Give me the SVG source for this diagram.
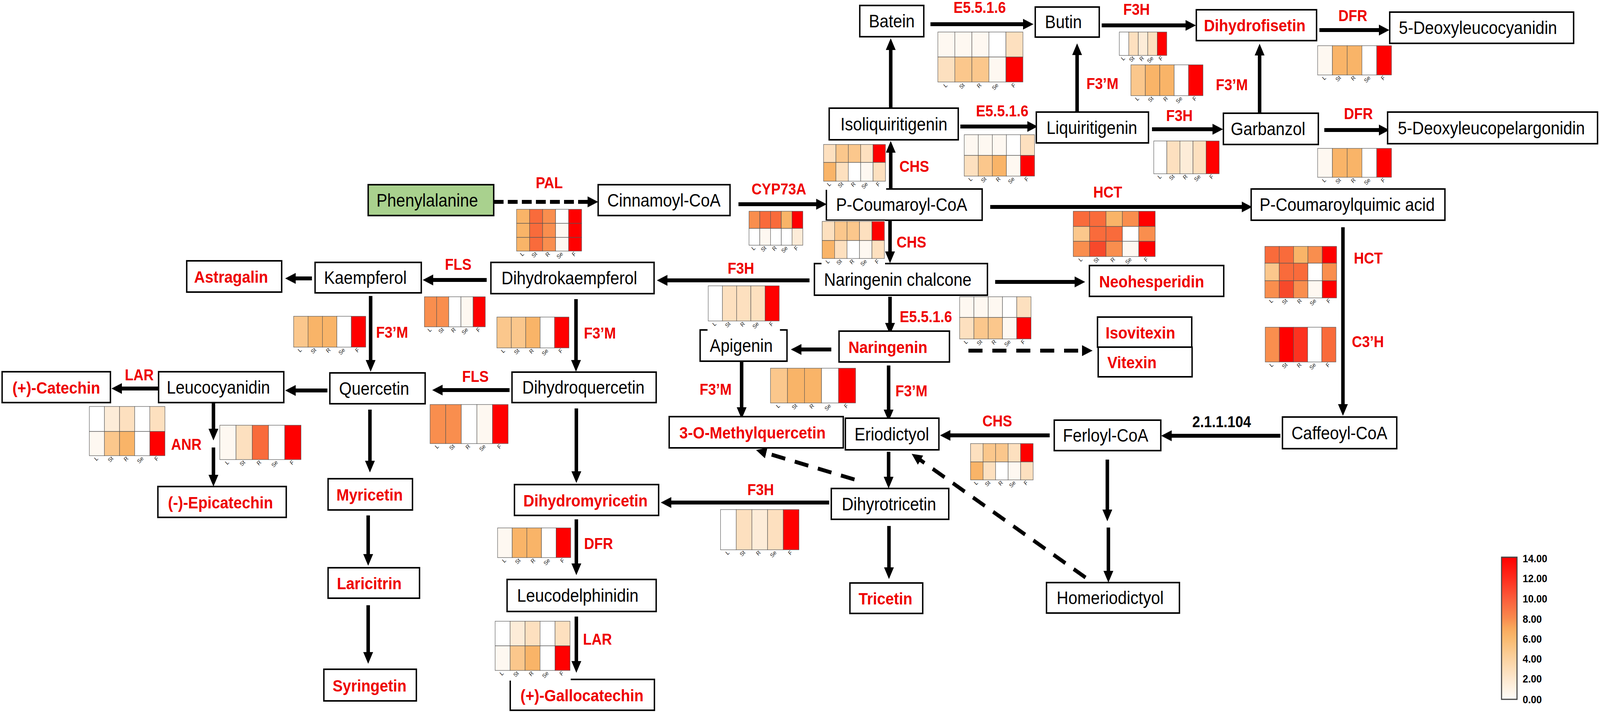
<svg xmlns="http://www.w3.org/2000/svg" width="4550" height="1826" viewBox="0 0 4550 1826" preserveAspectRatio="none" style="width:100vw;height:1826px;display:block">
<defs>
<style>
.box{fill:#fff;stroke:#000;stroke-width:4}
.nb{font:46px "Liberation Sans",Arial,sans-serif;fill:#000;text-anchor:middle}
.nr{font:bold 43px "Liberation Sans",Arial,sans-serif;fill:#ee0000;text-anchor:middle}
.en{font:bold 40px "Liberation Sans",Arial,sans-serif;fill:#ee0000;text-anchor:middle}
.ek{font:bold 40px "Liberation Sans",Arial,sans-serif;fill:#000;text-anchor:middle}
.tk{font:15px "Liberation Sans",Arial,sans-serif;fill:#222;text-anchor:end}
.lgt{font:bold 28px "Liberation Sans",Arial,sans-serif;fill:#000}
.ln{fill:none;stroke:#000;stroke-width:10;marker-end:url(#ah)}
.d1{stroke-dasharray:28 12}
.d2{stroke-dasharray:40 28}
.bg{fill:#fff}
.c{stroke:#555;stroke-width:1.2}
.w{fill:#ffffff}.v0{fill:#fef8f1}.v1{fill:#fdecd8}.v2{fill:#fde0bf}.v3{fill:#fbc78c}.v4{fill:#f9b468}.v5{fill:#f98e4e}.v6{fill:#f96b3b}.v7{fill:#f7492b}.v8{fill:#fc3320}.r{fill:#ff0000}
</style>
<marker id="ah" markerUnits="userSpaceOnUse" markerWidth="30" markerHeight="28" viewBox="0 0 30 28" refX="1" refY="14" orient="auto"><path d="M0,0L30,14L0,28z" fill="#000"/></marker>
<linearGradient id="lg" x1="0" y1="0" x2="0" y2="1">
<stop offset="0" stop-color="#ff0000"/><stop offset="0.143" stop-color="#ff2a1c"/><stop offset="0.286" stop-color="#fb5b3a"/><stop offset="0.429" stop-color="#f98a4e"/><stop offset="0.5" stop-color="#f9a85c"/><stop offset="0.571" stop-color="#f9b96e"/><stop offset="0.714" stop-color="#fbd2a0"/><stop offset="0.857" stop-color="#fde8cf"/><stop offset="1" stop-color="#fffdf9"/>
</linearGradient>
</defs>
<rect x="0" y="0" width="4550" height="1826" fill="#fff"/>

<g id="connectors">
<path class="ln d1" d="M1404,517H1672"/>
<path class="ln" d="M2100,523H2322"/>
<path class="ln" d="M2533,482V390"/>
<path class="ln" d="M2533,277V127"/>
<path class="ln" d="M2646,62H2910"/>
<path class="ln" d="M3133,65H3372"/>
<path class="ln" d="M3752,77H3922"/>
<path class="ln" d="M2731,324H2922"/>
<path class="ln" d="M3063,287V140"/>
<path class="ln" d="M3276,331H3449"/>
<path class="ln" d="M3582,290V141"/>
<path class="ln" d="M3766,333H3922"/>
<path class="ln" d="M2816,530H3532"/>
<path class="ln" d="M3819,582V1036"/>
<path class="ln" d="M3641,1116H3331"/>
<path class="ln" d="M2531,564V645"/>
<path class="ln" d="M2302,718H1897"/>
<path class="ln" d="M1384,717H1231"/>
<path class="ln" d="M887,713H840"/>
<path class="ln" d="M1054,758V923"/>
<path class="ln" d="M1638,766V923"/>
<path class="ln" d="M1449,999H1258"/>
<path class="ln" d="M931,1000H840"/>
<path class="ln" d="M459,995H346"/>
<path class="ln" d="M607,1027V1099"/>
<path class="ln" d="M607,1146V1217"/>
<path class="ln" d="M1052,1049V1181"/>
<path class="ln" d="M1047,1320V1420"/>
<path class="ln" d="M1047,1550V1671"/>
<path class="ln" d="M1639,1046V1208"/>
<path class="ln" d="M2358,1287H1908"/>
<path class="ln" d="M1639,1330V1444"/>
<path class="ln" d="M1639,1579V1694"/>
<path class="ln" d="M2830,722H3057"/>
<path class="ln" d="M2531,760V828"/>
<path class="ln" d="M2364,895H2278"/>
<path class="ln d2" d="M2754,898H3078"/>
<path class="ln" d="M2109,925V1044"/>
<path class="ln" d="M2527,936V1050"/>
<path class="ln" d="M2985,1115H2702"/>
<path class="ln" d="M2527,1157V1222"/>
<path class="ln" d="M2528,1347V1454"/>
<path class="ln" d="M3149,1177V1306"/>
<path class="ln" d="M3152,1351V1463"/>
<path class="ln d2" d="M2430,1228L2178,1160"/>
<path class="ln d2" d="M3087,1479L2617,1178"/>
</g>

<g id="enzyme-labels">
<text class="en" x="1562" y="482">PAL</text>
<text class="en" x="2215" y="498">CYP73A</text>
<text class="en" x="2600" y="440">CHS</text>
<text class="en" x="2786" y="33">E5.5.1.6</text>
<text class="en" x="3232" y="38">F3H</text>
<text class="en" x="3847" y="54">DFR</text>
<text class="en" x="2850" y="298">E5.5.1.6</text>
<text class="en" x="3135" y="228">F3’M</text>
<text class="en" x="3354" y="310">F3H</text>
<text class="en" x="3503" y="231">F3’M</text>
<text class="en" x="3863" y="305">DFR</text>
<text class="en" x="3150" y="506">HCT</text>
<text class="en" x="3891" y="675">HCT</text>
<text class="en" x="3890" y="889">C3’H</text>
<text class="ek" x="3474" y="1094">2.1.1.104</text>
<text class="en" x="2592" y="634">CHS</text>
<text class="en" x="2107" y="701">F3H</text>
<text class="en" x="1303" y="691">FLS</text>
<text class="en" x="1115" y="865">F3’M</text>
<text class="en" x="1706" y="867">F3’M</text>
<text class="en" x="1352" y="978">FLS</text>
<text class="en" x="396" y="974">LAR</text>
<text class="en" x="530" y="1152">ANR</text>
<text class="en" x="2163" y="1268">F3H</text>
<text class="en" x="1702" y="1406">DFR</text>
<text class="en" x="1699" y="1651">LAR</text>
<text class="en" x="2633" y="825">E5.5.1.6</text>
<text class="en" x="2035" y="1011">F3’M</text>
<text class="en" x="2592" y="1015">F3’M</text>
<text class="en" x="2836" y="1092">CHS</text>
</g>

<g id="n-batein"><rect class="box" x="2445" y="14" width="182" height="80"/><text class="nb" x="2536" y="70">Batein</text></g>
<g id="n-butin"><rect class="box" x="2944" y="18" width="182" height="77"/><text class="nb" x="3024" y="72">Butin</text></g>
<g id="n-dihydrofisetin"><rect class="box" x="3402" y="25" width="342" height="79"/><text class="nr" x="3568" y="80">Dihydrofisetin</text></g>
<g id="n-5dlc"><rect class="box" x="3952" y="31" width="523" height="80"/><text class="nb" x="4203" y="87">5-Deoxyleucocyanidin</text></g>
<g id="n-isoliquiritigenin"><rect class="box" x="2358" y="277" width="367" height="81"/><text class="nb" x="2542" y="334">Isoliquiritigenin</text></g>
<g id="n-liquiritigenin"><rect class="box" x="2947" y="287" width="319" height="79"/><text class="nb" x="3105" y="343">Liquiritigenin</text></g>
<g id="n-garbanzol"><rect class="box" x="3479" y="290" width="270" height="80"/><text class="nb" x="3606" y="346">Garbanzol</text></g>
<g id="n-5dlp"><rect class="box" x="3946" y="287" width="597" height="81"/><text class="nb" x="4241" y="344">5-Deoxyleucopelargonidin</text></g>
<g id="n-pcoumaroylcoa"><rect class="box" x="2350" y="484" width="443" height="80"/><text class="nb" x="2564" y="540">P-Coumaroyl-CoA</text></g>
<g id="n-pcq"><rect class="box" x="3558" y="484" width="551" height="80"/><text class="nb" x="3831" y="540">P-Coumaroylquimic acid</text></g>
<g id="n-cinnamoylcoa"><rect class="box" x="1701" y="473" width="375" height="79"/><text class="nb" x="1888" y="529">Cinnamoyl-CoA</text></g>
<g id="n-phenylalanine"><rect class="box" x="1047" y="473" width="357" height="79" style="fill:#a9d18e"/><text class="nb" x="1215" y="529">Phenylalanine</text></g>
<g id="n-astragalin"><rect class="box" x="531" y="668" width="270" height="80"/><text class="nr" x="657" y="724">Astragalin</text></g>
<g id="n-kaempferol"><rect class="box" x="896" y="672" width="302" height="78"/><text class="nb" x="1039" y="727">Kaempferol</text></g>
<g id="n-dihydrokaempferol"><rect class="box" x="1396" y="672" width="464" height="80"/><text class="nb" x="1619" y="728">Dihydrokaempferol</text></g>
<g id="n-naringeninchalcone"><rect class="box" x="2316" y="675" width="492" height="81"/><text class="nb" x="2553" y="732">Naringenin chalcone</text></g>
<g id="n-neohesperidin"><rect class="box" x="3098" y="680" width="382" height="79"/><text class="nr" x="3275" y="736">Neohesperidin</text></g>
<g id="n-apigenin"><rect class="box" x="1991" y="845" width="247" height="80"/><text class="nb" x="2108" y="901">Apigenin</text></g>
<g id="n-naringenin"><rect class="box" x="2386" y="848" width="314" height="79"/><text class="nr" x="2525" y="904">Naringenin</text></g>
<g id="n-isovitexin"><rect class="box" x="3121" y="812" width="268" height="77"/><text class="nr" x="3243" y="867">Isovitexin</text></g>
<g id="n-vitexin"><rect class="box" x="3123" y="889" width="267" height="76"/><text class="nr" x="3219" y="943">Vitexin</text></g>
<g id="n-leucocyanidin"><rect class="box" x="451" y="952" width="356" height="79"/><text class="nb" x="621" y="1008">Leucocyanidin</text></g>
<g id="n-catechin"><rect class="box" x="6" y="952" width="308" height="79"/><text class="nr" x="160" y="1008">(+)-Catechin</text></g>
<g id="n-quercetin"><rect class="box" x="938" y="955" width="271" height="79"/><text class="nb" x="1064" y="1011">Quercetin</text></g>
<g id="n-dihydroquercetin"><rect class="box" x="1456" y="953" width="410" height="78"/><text class="nb" x="1659" y="1008">Dihydroquercetin</text></g>
<g id="n-3omq"><rect class="box" x="1903" y="1067" width="495" height="80"/><text class="nr" x="2140" y="1123">3-O-Methylquercetin</text></g>
<g id="n-eriodictyol"><rect class="box" x="2404" y="1071" width="266" height="81"/><text class="nb" x="2536" y="1128">Eriodictyol</text></g>
<g id="n-ferloylcoa"><rect class="box" x="2998" y="1076" width="303" height="78"/><text class="nb" x="3144" y="1131">Ferloyl-CoA</text></g>
<g id="n-caffeoylcoa"><rect class="box" x="3647" y="1068" width="325" height="81"/><text class="nb" x="3809" y="1125">Caffeoyl-CoA</text></g>
<g id="n-epicatechin"><rect class="box" x="449" y="1246" width="365" height="79"/><text class="nr" x="627" y="1302">(-)-Epicatechin</text></g>
<g id="n-myricetin"><rect class="box" x="933" y="1226" width="240" height="80"/><text class="nr" x="1051" y="1282">Myricetin</text></g>
<g id="n-laricitrin"><rect class="box" x="933" y="1454" width="260" height="78"/><text class="nr" x="1050" y="1509">Laricitrin</text></g>
<g id="n-syringetin"><rect class="box" x="921" y="1714" width="263" height="81"/><text class="nr" x="1051" y="1771">Syringetin</text></g>
<g id="n-dihydromyricetin"><rect class="box" x="1463" y="1241" width="410" height="79"/><text class="nr" x="1665" y="1297">Dihydromyricetin</text></g>
<g id="n-leucodelphinidin"><rect class="box" x="1442" y="1484" width="424" height="82"/><text class="nb" x="1643" y="1541">Leucodelphinidin</text></g>
<g id="n-gallocatechin"><rect class="box" x="1451" y="1740" width="410" height="79"/><text class="nr" x="1655" y="1796">(+)-Gallocatechin</text></g>
<g id="n-dihyrotricetin"><rect class="box" x="2364" y="1251" width="334" height="79"/><text class="nb" x="2528" y="1307">Dihyrotricetin</text></g>
<g id="n-tricetin"><rect class="box" x="2417" y="1493" width="207" height="78"/><text class="nr" x="2518" y="1548">Tricetin</text></g>
<g id="n-homeriodictyol"><rect class="box" x="2976" y="1492" width="378" height="78"/><text class="nb" x="3157" y="1547">Homeriodictyol</text></g>

<g id="heatmaps">
<g id="hm-pal"><rect class="bg" x="1467" y="534" width="189" height="131"/>
<rect class="c v4" x="1469" y="536" width="37" height="36"/><rect class="c v6" x="1506" y="536" width="37" height="36"/><rect class="c v5" x="1543" y="536" width="37" height="36"/><rect class="c w" x="1580" y="536" width="37" height="36"/><rect class="c r" x="1617" y="536" width="37" height="36"/>
<rect class="c v4" x="1469" y="572" width="37" height="36"/><rect class="c v6" x="1506" y="572" width="37" height="36"/><rect class="c v5" x="1543" y="572" width="37" height="36"/><rect class="c v0" x="1580" y="572" width="37" height="36"/><rect class="c r" x="1617" y="572" width="37" height="36"/>
<rect class="c v4" x="1469" y="608" width="37" height="35"/><rect class="c v6" x="1506" y="608" width="37" height="35"/><rect class="c v5" x="1543" y="608" width="37" height="35"/><rect class="c v0" x="1580" y="608" width="37" height="35"/><rect class="c r" x="1617" y="608" width="37" height="35"/>
<text class="tk" transform="translate(1491,651) rotate(-45)">L</text><text class="tk" transform="translate(1528,651) rotate(-45)">St</text><text class="tk" transform="translate(1565,651) rotate(-45)">R</text><text class="tk" transform="translate(1602,651) rotate(-45)">Se</text><text class="tk" transform="translate(1639,651) rotate(-45)">F</text>
</g>
<g id="hm-cyp73a"><rect class="bg" x="2128" y="539" width="157" height="111"/>
<rect class="c v5" x="2130" y="541" width="30.6" height="44"/><rect class="c v6" x="2160.6" y="541" width="30.6" height="44"/><rect class="c v6" x="2191.2" y="541" width="30.6" height="44"/><rect class="c v4" x="2221.8" y="541" width="30.6" height="44"/><rect class="c r" x="2252.4" y="541" width="30.6" height="44"/>
<rect class="c w" x="2130" y="585" width="30.6" height="43"/><rect class="c v0" x="2160.6" y="585" width="30.6" height="43"/><rect class="c w" x="2191.2" y="585" width="30.6" height="43"/><rect class="c w" x="2221.8" y="585" width="30.6" height="43"/><rect class="c v1" x="2252.4" y="585" width="30.6" height="43"/>
<text class="tk" transform="translate(2149,636) rotate(-45)">L</text><text class="tk" transform="translate(2180,636) rotate(-45)">St</text><text class="tk" transform="translate(2210,636) rotate(-45)">R</text><text class="tk" transform="translate(2241,636) rotate(-45)">Se</text><text class="tk" transform="translate(2271,636) rotate(-45)">F</text>
</g>
<g id="hm-chs1"><rect class="bg" x="2340" y="368" width="180" height="118"/>
<rect class="c v2" x="2342" y="370" width="35.2" height="46"/><rect class="c v3" x="2377.2" y="370" width="35.2" height="46"/><rect class="c v3" x="2412.4" y="370" width="35.2" height="46"/><rect class="c v2" x="2447.6" y="370" width="35.2" height="46"/><rect class="c r" x="2482.8" y="370" width="35.2" height="46"/>
<rect class="c v4" x="2342" y="416" width="35.2" height="48"/><rect class="c v2" x="2377.2" y="416" width="35.2" height="48"/><rect class="c w" x="2412.4" y="416" width="35.2" height="48"/><rect class="c v0" x="2447.6" y="416" width="35.2" height="48"/><rect class="c v2" x="2482.8" y="416" width="35.2" height="48"/>
<text class="tk" transform="translate(2364,472) rotate(-45)">L</text><text class="tk" transform="translate(2399,472) rotate(-45)">St</text><text class="tk" transform="translate(2434,472) rotate(-45)">R</text><text class="tk" transform="translate(2469,472) rotate(-45)">Se</text><text class="tk" transform="translate(2504,472) rotate(-45)">F</text>
</g>
<g id="hm-e1"><rect class="bg" x="2665" y="80" width="246" height="152"/>
<rect class="c v0" x="2667" y="82" width="48.4" height="64"/><rect class="c v0" x="2715.4" y="82" width="48.4" height="64"/><rect class="c v0" x="2763.8" y="82" width="48.4" height="64"/><rect class="c w" x="2812.2" y="82" width="48.4" height="64"/><rect class="c v2" x="2860.6" y="82" width="48.4" height="64"/>
<rect class="c v2" x="2667" y="146" width="48.4" height="64"/><rect class="c v3" x="2715.4" y="146" width="48.4" height="64"/><rect class="c v3" x="2763.8" y="146" width="48.4" height="64"/><rect class="c v0" x="2812.2" y="146" width="48.4" height="64"/><rect class="c r" x="2860.6" y="146" width="48.4" height="64"/>
<text class="tk" transform="translate(2695,219) rotate(-45)">L</text><text class="tk" transform="translate(2744,219) rotate(-45)">St</text><text class="tk" transform="translate(2792,219) rotate(-45)">R</text><text class="tk" transform="translate(2840,219) rotate(-45)">Se</text><text class="tk" transform="translate(2889,219) rotate(-45)">F</text>
</g>
<g id="hm-f3h1"><rect class="bg" x="3181" y="80" width="139" height="82"/>
<rect class="c w" x="3183" y="82" width="27" height="60"/><rect class="c v2" x="3210" y="82" width="27" height="60"/><rect class="c v1" x="3237" y="82" width="27" height="60"/><rect class="c v2" x="3264" y="82" width="27" height="60"/><rect class="c r" x="3291" y="82" width="27" height="60"/>
<text class="tk" transform="translate(3200,150) rotate(-45)">L</text><text class="tk" transform="translate(3227,150) rotate(-45)">St</text><text class="tk" transform="translate(3254,150) rotate(-45)">R</text><text class="tk" transform="translate(3281,150) rotate(-45)">Se</text><text class="tk" transform="translate(3308,150) rotate(-45)">F</text>
</g>
<g id="hm-f3m1"><rect class="bg" x="3214" y="164" width="209" height="103"/>
<rect class="c v3" x="3216" y="166" width="41" height="79"/><rect class="c v4" x="3257" y="166" width="41" height="79"/><rect class="c v4" x="3298" y="166" width="41" height="79"/><rect class="c w" x="3339" y="166" width="41" height="79"/><rect class="c r" x="3380" y="166" width="41" height="79"/>
<text class="tk" transform="translate(3240,253) rotate(-45)">L</text><text class="tk" transform="translate(3281,253) rotate(-45)">St</text><text class="tk" transform="translate(3322,253) rotate(-45)">R</text><text class="tk" transform="translate(3363,253) rotate(-45)">Se</text><text class="tk" transform="translate(3404,253) rotate(-45)">F</text>
</g>
<g id="hm-dfr1"><rect class="bg" x="3745" y="115" width="214" height="99"/>
<rect class="c v0" x="3747" y="117" width="42" height="75"/><rect class="c v4" x="3789" y="117" width="42" height="75"/><rect class="c v4" x="3831" y="117" width="42" height="75"/><rect class="c w" x="3873" y="117" width="42" height="75"/><rect class="c r" x="3915" y="117" width="42" height="75"/>
<text class="tk" transform="translate(3772,200) rotate(-45)">L</text><text class="tk" transform="translate(3814,200) rotate(-45)">St</text><text class="tk" transform="translate(3856,200) rotate(-45)">R</text><text class="tk" transform="translate(3898,200) rotate(-45)">Se</text><text class="tk" transform="translate(3940,200) rotate(-45)">F</text>
</g>
<g id="hm-e2"><rect class="bg" x="2740" y="343" width="204" height="130"/>
<rect class="c v0" x="2742" y="345" width="40" height="53"/><rect class="c v0" x="2782" y="345" width="40" height="53"/><rect class="c v0" x="2822" y="345" width="40" height="53"/><rect class="c w" x="2862" y="345" width="40" height="53"/><rect class="c v2" x="2902" y="345" width="40" height="53"/>
<rect class="c v2" x="2742" y="398" width="40" height="53"/><rect class="c v3" x="2782" y="398" width="40" height="53"/><rect class="c v4" x="2822" y="398" width="40" height="53"/><rect class="c v0" x="2862" y="398" width="40" height="53"/><rect class="c r" x="2902" y="398" width="40" height="53"/>
<text class="tk" transform="translate(2766,459) rotate(-45)">L</text><text class="tk" transform="translate(2806,459) rotate(-45)">St</text><text class="tk" transform="translate(2846,459) rotate(-45)">R</text><text class="tk" transform="translate(2886,459) rotate(-45)">Se</text><text class="tk" transform="translate(2926,459) rotate(-45)">F</text>
</g>
<g id="hm-f3h2"><rect class="bg" x="3279" y="359" width="190" height="108"/>
<rect class="c w" x="3281" y="361" width="37.2" height="84"/><rect class="c v2" x="3318.2" y="361" width="37.2" height="84"/><rect class="c v1" x="3355.4" y="361" width="37.2" height="84"/><rect class="c v2" x="3392.6" y="361" width="37.2" height="84"/><rect class="c r" x="3429.8" y="361" width="37.2" height="84"/>
<text class="tk" transform="translate(3304,453) rotate(-45)">L</text><text class="tk" transform="translate(3341,453) rotate(-45)">St</text><text class="tk" transform="translate(3378,453) rotate(-45)">R</text><text class="tk" transform="translate(3415,453) rotate(-45)">Se</text><text class="tk" transform="translate(3452,453) rotate(-45)">F</text>
</g>
<g id="hm-dfr2"><rect class="bg" x="3745" y="378" width="214" height="98"/>
<rect class="c v0" x="3747" y="380" width="42" height="74"/><rect class="c v4" x="3789" y="380" width="42" height="74"/><rect class="c v4" x="3831" y="380" width="42" height="74"/><rect class="c w" x="3873" y="380" width="42" height="74"/><rect class="c r" x="3915" y="380" width="42" height="74"/>
<text class="tk" transform="translate(3772,462) rotate(-45)">L</text><text class="tk" transform="translate(3814,462) rotate(-45)">St</text><text class="tk" transform="translate(3856,462) rotate(-45)">R</text><text class="tk" transform="translate(3898,462) rotate(-45)">Se</text><text class="tk" transform="translate(3940,462) rotate(-45)">F</text>
</g>
<g id="hm-hct1"><rect class="bg" x="3050" y="539" width="237" height="138"/>
<rect class="c v6" x="3052" y="541" width="46.6" height="39"/><rect class="c v6" x="3098.6" y="541" width="46.6" height="39"/><rect class="c v4" x="3145.2" y="541" width="46.6" height="39"/><rect class="c v5" x="3191.8" y="541" width="46.6" height="39"/><rect class="c r" x="3238.4" y="541" width="46.6" height="39"/>
<rect class="c v3" x="3052" y="580" width="46.6" height="38"/><rect class="c v6" x="3098.6" y="580" width="46.6" height="38"/><rect class="c v6" x="3145.2" y="580" width="46.6" height="38"/><rect class="c w" x="3191.8" y="580" width="46.6" height="38"/><rect class="c v5" x="3238.4" y="580" width="46.6" height="38"/>
<rect class="c v5" x="3052" y="618" width="46.6" height="39"/><rect class="c v7" x="3098.6" y="618" width="46.6" height="39"/><rect class="c v5" x="3145.2" y="618" width="46.6" height="39"/><rect class="c v0" x="3191.8" y="618" width="46.6" height="39"/><rect class="c r" x="3238.4" y="618" width="46.6" height="39"/>
<text class="tk" transform="translate(3079,665) rotate(-45)">L</text><text class="tk" transform="translate(3126,665) rotate(-45)">St</text><text class="tk" transform="translate(3172,665) rotate(-45)">R</text><text class="tk" transform="translate(3219,665) rotate(-45)">Se</text><text class="tk" transform="translate(3266,665) rotate(-45)">F</text>
</g>
<g id="hm-chs2"><rect class="bg" x="2336" y="565" width="181" height="119"/>
<rect class="c v2" x="2338" y="567" width="35.4" height="49"/><rect class="c v3" x="2373.4" y="567" width="35.4" height="49"/><rect class="c v3" x="2408.8" y="567" width="35.4" height="49"/><rect class="c v2" x="2444.2" y="567" width="35.4" height="49"/><rect class="c r" x="2479.6" y="567" width="35.4" height="49"/>
<rect class="c v4" x="2338" y="616" width="35.4" height="46"/><rect class="c v2" x="2373.4" y="616" width="35.4" height="46"/><rect class="c w" x="2408.8" y="616" width="35.4" height="46"/><rect class="c v0" x="2444.2" y="616" width="35.4" height="46"/><rect class="c v2" x="2479.6" y="616" width="35.4" height="46"/>
<text class="tk" transform="translate(2360,670) rotate(-45)">L</text><text class="tk" transform="translate(2395,670) rotate(-45)">St</text><text class="tk" transform="translate(2430,670) rotate(-45)">R</text><text class="tk" transform="translate(2466,670) rotate(-45)">Se</text><text class="tk" transform="translate(2501,670) rotate(-45)">F</text>
</g>
<g id="hm-hct2"><rect class="bg" x="3595" y="629" width="208" height="156"/>
<rect class="c v6" x="3597" y="631" width="40.8" height="43"/><rect class="c v6" x="3637.8" y="631" width="40.8" height="43"/><rect class="c v4" x="3678.6" y="631" width="40.8" height="43"/><rect class="c v5" x="3719.4" y="631" width="40.8" height="43"/><rect class="c r" x="3760.2" y="631" width="40.8" height="43"/>
<rect class="c v3" x="3597" y="674" width="40.8" height="45"/><rect class="c v6" x="3637.8" y="674" width="40.8" height="45"/><rect class="c v6" x="3678.6" y="674" width="40.8" height="45"/><rect class="c w" x="3719.4" y="674" width="40.8" height="45"/><rect class="c v5" x="3760.2" y="674" width="40.8" height="45"/>
<rect class="c v5" x="3597" y="719" width="40.8" height="44"/><rect class="c v7" x="3637.8" y="719" width="40.8" height="44"/><rect class="c v5" x="3678.6" y="719" width="40.8" height="44"/><rect class="c v0" x="3719.4" y="719" width="40.8" height="44"/><rect class="c r" x="3760.2" y="719" width="40.8" height="44"/>
<text class="tk" transform="translate(3621,771) rotate(-45)">L</text><text class="tk" transform="translate(3662,771) rotate(-45)">St</text><text class="tk" transform="translate(3703,771) rotate(-45)">R</text><text class="tk" transform="translate(3744,771) rotate(-45)">Se</text><text class="tk" transform="translate(3785,771) rotate(-45)">F</text>
</g>
<g id="hm-c3h"><rect class="bg" x="3596" y="836" width="205" height="113"/>
<rect class="c v5" x="3598" y="838" width="40.2" height="89"/><rect class="c r" x="3638.2" y="838" width="40.2" height="89"/><rect class="c v8" x="3678.4" y="838" width="40.2" height="89"/><rect class="c w" x="3718.6" y="838" width="40.2" height="89"/><rect class="c v6" x="3758.8" y="838" width="40.2" height="89"/>
<text class="tk" transform="translate(3622,935) rotate(-45)">L</text><text class="tk" transform="translate(3662,935) rotate(-45)">St</text><text class="tk" transform="translate(3702,935) rotate(-45)">R</text><text class="tk" transform="translate(3743,935) rotate(-45)">Se</text><text class="tk" transform="translate(3783,935) rotate(-45)">F</text>
</g>
<g id="hm-fls1"><rect class="bg" x="1205" y="758" width="177" height="101"/>
<rect class="c v5" x="1207" y="760" width="34.6" height="77"/><rect class="c v5" x="1241.6" y="760" width="34.6" height="77"/><rect class="c w" x="1276.2" y="760" width="34.6" height="77"/><rect class="c v0" x="1310.8" y="760" width="34.6" height="77"/><rect class="c r" x="1345.4" y="760" width="34.6" height="77"/>
<text class="tk" transform="translate(1228,845) rotate(-45)">L</text><text class="tk" transform="translate(1263,845) rotate(-45)">St</text><text class="tk" transform="translate(1297,845) rotate(-45)">R</text><text class="tk" transform="translate(1332,845) rotate(-45)">Se</text><text class="tk" transform="translate(1367,845) rotate(-45)">F</text>
</g>
<g id="hm-f3m2"><rect class="bg" x="833" y="808" width="209" height="103"/>
<rect class="c v3" x="835" y="810" width="41" height="79"/><rect class="c v4" x="876" y="810" width="41" height="79"/><rect class="c v4" x="917" y="810" width="41" height="79"/><rect class="c w" x="958" y="810" width="41" height="79"/><rect class="c r" x="999" y="810" width="41" height="79"/>
<text class="tk" transform="translate(859,897) rotate(-45)">L</text><text class="tk" transform="translate(900,897) rotate(-45)">St</text><text class="tk" transform="translate(941,897) rotate(-45)">R</text><text class="tk" transform="translate(982,897) rotate(-45)">Se</text><text class="tk" transform="translate(1023,897) rotate(-45)">F</text>
</g>
<g id="hm-f3m3"><rect class="bg" x="1411" y="810" width="209" height="103"/>
<rect class="c v3" x="1413" y="812" width="41" height="79"/><rect class="c v3" x="1454" y="812" width="41" height="79"/><rect class="c v4" x="1495" y="812" width="41" height="79"/><rect class="c w" x="1536" y="812" width="41" height="79"/><rect class="c r" x="1577" y="812" width="41" height="79"/>
<text class="tk" transform="translate(1437,899) rotate(-45)">L</text><text class="tk" transform="translate(1478,899) rotate(-45)">St</text><text class="tk" transform="translate(1519,899) rotate(-45)">R</text><text class="tk" transform="translate(1560,899) rotate(-45)">Se</text><text class="tk" transform="translate(1601,899) rotate(-45)">F</text>
</g>
<g id="hm-f3h3"><rect class="bg" x="2012" y="730" width="206" height="120"/>
<rect class="c w" x="2014" y="732" width="40.4" height="90"/><rect class="c v2" x="2054.4" y="732" width="40.4" height="90"/><rect class="c v2" x="2094.8" y="732" width="40.4" height="90"/><rect class="c v2" x="2135.2" y="732" width="40.4" height="90"/><rect class="c r" x="2175.6" y="732" width="40.4" height="90"/>
<text class="tk" transform="translate(2038,830) rotate(-45)">L</text><text class="tk" transform="translate(2078,830) rotate(-45)">St</text><text class="tk" transform="translate(2119,830) rotate(-45)">R</text><text class="tk" transform="translate(2159,830) rotate(-45)">Se</text><text class="tk" transform="translate(2200,830) rotate(-45)">F</text>
</g>
<g id="hm-e3"><rect class="bg" x="2727" y="758" width="207" height="132"/>
<rect class="c v0" x="2729" y="760" width="40.6" height="53"/><rect class="c v0" x="2769.6" y="760" width="40.6" height="53"/><rect class="c v0" x="2810.2" y="760" width="40.6" height="53"/><rect class="c w" x="2850.8" y="760" width="40.6" height="53"/><rect class="c v2" x="2891.4" y="760" width="40.6" height="53"/>
<rect class="c v2" x="2729" y="813" width="40.6" height="55"/><rect class="c v3" x="2769.6" y="813" width="40.6" height="55"/><rect class="c v3" x="2810.2" y="813" width="40.6" height="55"/><rect class="c v0" x="2850.8" y="813" width="40.6" height="55"/><rect class="c r" x="2891.4" y="813" width="40.6" height="55"/>
<text class="tk" transform="translate(2753,876) rotate(-45)">L</text><text class="tk" transform="translate(2794,876) rotate(-45)">St</text><text class="tk" transform="translate(2834,876) rotate(-45)">R</text><text class="tk" transform="translate(2875,876) rotate(-45)">Se</text><text class="tk" transform="translate(2916,876) rotate(-45)">F</text>
</g>
<g id="hm-f3m4"><rect class="bg" x="2189" y="941" width="246" height="113"/>
<rect class="c v3" x="2191" y="943" width="48.4" height="89"/><rect class="c v4" x="2239.4" y="943" width="48.4" height="89"/><rect class="c v4" x="2287.8" y="943" width="48.4" height="89"/><rect class="c w" x="2336.2" y="943" width="48.4" height="89"/><rect class="c r" x="2384.6" y="943" width="48.4" height="89"/>
<text class="tk" transform="translate(2219,1040) rotate(-45)">L</text><text class="tk" transform="translate(2268,1040) rotate(-45)">St</text><text class="tk" transform="translate(2316,1040) rotate(-45)">R</text><text class="tk" transform="translate(2364,1040) rotate(-45)">Se</text><text class="tk" transform="translate(2413,1040) rotate(-45)">F</text>
</g>
<g id="hm-fls2"><rect class="bg" x="1221" y="1034" width="226" height="124"/>
<rect class="c v5" x="1223" y="1036" width="44.4" height="100"/><rect class="c v5" x="1267.4" y="1036" width="44.4" height="100"/><rect class="c w" x="1311.8" y="1036" width="44.4" height="100"/><rect class="c v0" x="1356.2" y="1036" width="44.4" height="100"/><rect class="c r" x="1400.6" y="1036" width="44.4" height="100"/>
<text class="tk" transform="translate(1249,1144) rotate(-45)">L</text><text class="tk" transform="translate(1294,1144) rotate(-45)">St</text><text class="tk" transform="translate(1338,1144) rotate(-45)">R</text><text class="tk" transform="translate(1382,1144) rotate(-45)">Se</text><text class="tk" transform="translate(1427,1144) rotate(-45)">F</text>
</g>
<g id="hm-lar1"><rect class="bg" x="252" y="1039" width="219" height="150"/>
<rect class="c w" x="254" y="1041" width="43" height="64"/><rect class="c v1" x="297" y="1041" width="43" height="64"/><rect class="c v2" x="340" y="1041" width="43" height="64"/><rect class="c w" x="383" y="1041" width="43" height="64"/><rect class="c v2" x="426" y="1041" width="43" height="64"/>
<rect class="c v0" x="254" y="1105" width="43" height="62"/><rect class="c v3" x="297" y="1105" width="43" height="62"/><rect class="c v4" x="340" y="1105" width="43" height="62"/><rect class="c w" x="383" y="1105" width="43" height="62"/><rect class="c r" x="426" y="1105" width="43" height="62"/>
<text class="tk" transform="translate(280,1175) rotate(-45)">L</text><text class="tk" transform="translate(323,1175) rotate(-45)">St</text><text class="tk" transform="translate(366,1175) rotate(-45)">R</text><text class="tk" transform="translate(409,1175) rotate(-45)">Se</text><text class="tk" transform="translate(452,1175) rotate(-45)">F</text>
</g>
<g id="hm-anr"><rect class="bg" x="623" y="1087" width="235" height="112"/>
<rect class="c v0" x="625" y="1089" width="46.2" height="88"/><rect class="c v2" x="671.2" y="1089" width="46.2" height="88"/><rect class="c v6" x="717.4" y="1089" width="46.2" height="88"/><rect class="c w" x="763.6" y="1089" width="46.2" height="88"/><rect class="c r" x="809.8" y="1089" width="46.2" height="88"/>
<text class="tk" transform="translate(652,1185) rotate(-45)">L</text><text class="tk" transform="translate(698,1185) rotate(-45)">St</text><text class="tk" transform="translate(744,1185) rotate(-45)">R</text><text class="tk" transform="translate(791,1185) rotate(-45)">Se</text><text class="tk" transform="translate(837,1185) rotate(-45)">F</text>
</g>
<g id="hm-chs3"><rect class="bg" x="2758" y="1134" width="182" height="117"/>
<rect class="c v2" x="2760" y="1136" width="35.6" height="47"/><rect class="c v3" x="2795.6" y="1136" width="35.6" height="47"/><rect class="c v3" x="2831.2" y="1136" width="35.6" height="47"/><rect class="c v2" x="2866.8" y="1136" width="35.6" height="47"/><rect class="c r" x="2902.4" y="1136" width="35.6" height="47"/>
<rect class="c v4" x="2760" y="1183" width="35.6" height="46"/><rect class="c v2" x="2795.6" y="1183" width="35.6" height="46"/><rect class="c w" x="2831.2" y="1183" width="35.6" height="46"/><rect class="c v0" x="2866.8" y="1183" width="35.6" height="46"/><rect class="c v2" x="2902.4" y="1183" width="35.6" height="46"/>
<text class="tk" transform="translate(2782,1237) rotate(-45)">L</text><text class="tk" transform="translate(2817,1237) rotate(-45)">St</text><text class="tk" transform="translate(2853,1237) rotate(-45)">R</text><text class="tk" transform="translate(2889,1237) rotate(-45)">Se</text><text class="tk" transform="translate(2924,1237) rotate(-45)">F</text>
</g>
<g id="hm-f3h4"><rect class="bg" x="2047" y="1303" width="227" height="127"/>
<rect class="c w" x="2049" y="1305" width="44.6" height="103"/><rect class="c v2" x="2093.6" y="1305" width="44.6" height="103"/><rect class="c v1" x="2138.2" y="1305" width="44.6" height="103"/><rect class="c v2" x="2182.8" y="1305" width="44.6" height="103"/><rect class="c r" x="2227.4" y="1305" width="44.6" height="103"/>
<text class="tk" transform="translate(2075,1416) rotate(-45)">L</text><text class="tk" transform="translate(2120,1416) rotate(-45)">St</text><text class="tk" transform="translate(2164,1416) rotate(-45)">R</text><text class="tk" transform="translate(2209,1416) rotate(-45)">Se</text><text class="tk" transform="translate(2254,1416) rotate(-45)">F</text>
</g>
<g id="hm-dfr3"><rect class="bg" x="1413" y="1350" width="212" height="100"/>
<rect class="c v0" x="1415" y="1352" width="41.6" height="76"/><rect class="c v4" x="1456.6" y="1352" width="41.6" height="76"/><rect class="c v4" x="1498.2" y="1352" width="41.6" height="76"/><rect class="c w" x="1539.8" y="1352" width="41.6" height="76"/><rect class="c r" x="1581.4" y="1352" width="41.6" height="76"/>
<text class="tk" transform="translate(1440,1436) rotate(-45)">L</text><text class="tk" transform="translate(1481,1436) rotate(-45)">St</text><text class="tk" transform="translate(1523,1436) rotate(-45)">R</text><text class="tk" transform="translate(1565,1436) rotate(-45)">Se</text><text class="tk" transform="translate(1606,1436) rotate(-45)">F</text>
</g>
<g id="hm-lar2"><rect class="bg" x="1406" y="1589" width="217" height="154"/>
<rect class="c w" x="1408" y="1591" width="42.6" height="63"/><rect class="c v1" x="1450.6" y="1591" width="42.6" height="63"/><rect class="c v2" x="1493.2" y="1591" width="42.6" height="63"/><rect class="c w" x="1535.8" y="1591" width="42.6" height="63"/><rect class="c v2" x="1578.4" y="1591" width="42.6" height="63"/>
<rect class="c v0" x="1408" y="1654" width="42.6" height="63"/><rect class="c v3" x="1450.6" y="1654" width="42.6" height="63"/><rect class="c v4" x="1493.2" y="1654" width="42.6" height="63"/><rect class="c w" x="1535.8" y="1654" width="42.6" height="63"/><rect class="c r" x="1578.4" y="1654" width="42.6" height="63"/>
<text class="tk" transform="translate(1433,1725) rotate(-45)">L</text><text class="tk" transform="translate(1476,1725) rotate(-45)">St</text><text class="tk" transform="translate(1518,1725) rotate(-45)">R</text><text class="tk" transform="translate(1561,1725) rotate(-45)">Se</text><text class="tk" transform="translate(1604,1725) rotate(-45)">F</text>
</g>
</g>

<g id="legend">
<rect x="4270" y="1427" width="44" height="364" fill="url(#lg)" stroke="#444" stroke-width="3"/>
<text class="lgt" x="4330" y="1440">14.00</text>
<text class="lgt" x="4330" y="1491">12.00</text>
<text class="lgt" x="4330" y="1543">10.00</text>
<text class="lgt" x="4330" y="1595">8.00</text>
<text class="lgt" x="4330" y="1646">6.00</text>
<text class="lgt" x="4330" y="1697">4.00</text>
<text class="lgt" x="4330" y="1748">2.00</text>
<text class="lgt" x="4330" y="1801">0.00</text>
</g>
</svg>
